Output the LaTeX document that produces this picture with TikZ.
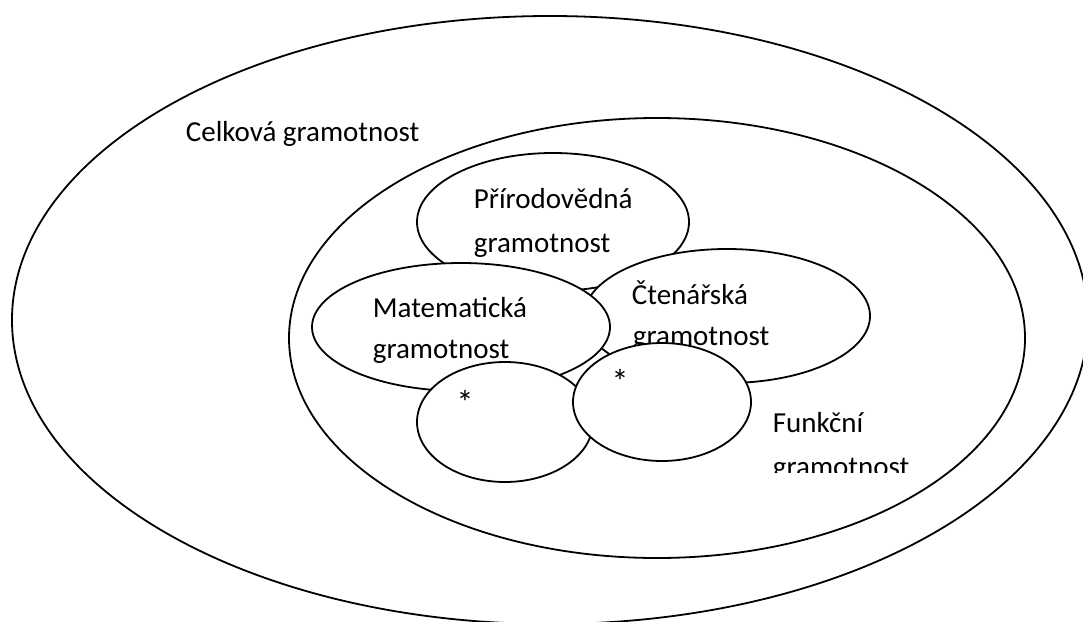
\documentclass[tikz,border=0pt]{standalone}
\usepackage{fontspec}
\setmainfont{Carlito}
\begin{document}
\begin{tikzpicture}[x=1pt,y=-1pt,line width=1.8pt,
    lbl/.style={anchor=base west,inner sep=0pt,font=\fontsize{29}{35}\selectfont},
    hvezda/.style={anchor=center,inner sep=0pt,font=\fontsize{34}{40}\selectfont},
    blob/.style={draw=black,fill=white}]
        \useasboundingbox (0,0) rectangle (1083,621);
        \begin{scope}
        \clip (0,0) rectangle (1083,621);
        \draw[blob] (550,320) ellipse [x radius=538pt, y radius=304pt];
        \end{scope}
        \node[lbl] (celk) at (185,141) {Celková gramotnost};
        \draw[blob] (657,338) ellipse [x radius=368pt, y radius=220pt];
        \begin{scope}
        \clip (760,390) rectangle (920,472);
        \node[lbl] (funk1) at (772,432) {Funkční};
        \node[lbl] (funk2) at (772,476) {gramotnost};
        \end{scope}
        \draw[blob] (553,222) ellipse [x radius=136pt, y radius=69pt];
        \node[lbl] (prir1) at (473,208) {Přírodovědná};
        \node[lbl] (prir2) at (473,252) {gramotnost};
        \draw[blob] (727,316) ellipse [x radius=143pt, y radius=67pt];
        \node[lbl] (cten1) at (631,304) {Čtenářská};
        \node[lbl] (cten2) at (632,345) {gramotnost};
        \draw[blob] (461,327) ellipse [x radius=149pt, y radius=64pt];
        \node[lbl] (mat1) at (372,317) {Matematická};
        \node[lbl] (mat2) at (372,358) {gramotnost};
        \draw[blob] (505,422) ellipse [x radius=88pt, y radius=60pt];
        \node[hvezda] (hvA) at (465,402) {*};
        \draw[blob] (662,402) ellipse [x radius=89pt, y radius=59pt];
        \node[hvezda] (hvB) at (620,381) {*};
    \end{tikzpicture}
\end{document}
